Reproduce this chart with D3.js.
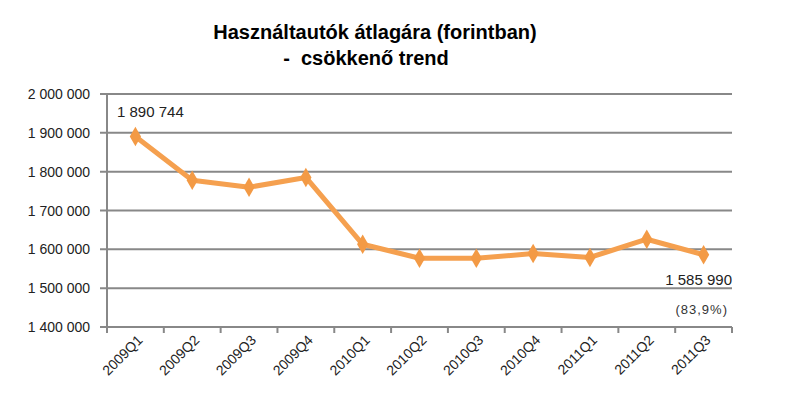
<!DOCTYPE html>
<html><head><meta charset="utf-8">
<script src="https://cdn.jsdelivr.net/npm/d3@7"></script>
<style>body{margin:0;background:#fff}</style>
</head><body>
<script>
const categories = ["2009Q1","2009Q2","2009Q3","2009Q4","2010Q1","2010Q2","2010Q3","2010Q4","2011Q1","2011Q2","2011Q3"];
const prices = [1890744,1778000,1760000,1785000,1613000,1577000,1577000,1589000,1579000,1626000,1585990];
const yTicks = [1400000,1500000,1600000,1700000,1800000,1900000,2000000];

const width = 810, height = 408;
const plotLeft = 107, plotRight = 732, plotTop = 94, plotBottom = 327;
const fmt = v => d3.format(",")(v).replace(/,/g, " ");

const svg = d3.select("body").append("svg")
  .attr("width", width).attr("height", height)
  .style("font-family", "Liberation Sans, Arial, sans-serif");

const x = d3.scaleBand().domain(categories).range([plotLeft, plotRight]);
const y = d3.scaleLinear().domain([1400000, 2000000]).range([plotBottom, plotTop]);

// title
svg.append("text").attr("x", 375).attr("y", 39).attr("text-anchor", "middle")
  .style("font-size", "20px").style("font-weight", "bold").text("Használtautók átlagára (forintban)");
svg.append("text").attr("x", 366).attr("y", 65).attr("text-anchor", "middle")
  .style("font-size", "20px").style("font-weight", "bold").style("white-space", "pre")
  .text("-  csökkenő trend");

// grid
svg.append("g").selectAll("line").data(yTicks).join("line")
  .attr("x1", plotLeft - 7).attr("x2", plotRight)
  .attr("y1", d => y(d)).attr("y2", d => y(d))
  .attr("stroke", "#888").attr("stroke-width", 2);

svg.append("g").selectAll("text").data(yTicks).join("text")
  .attr("x", 90).attr("y", d => y(d) + 5).attr("text-anchor", "end")
  .style("font-size", "14px").attr("fill", "#222").text(fmt);

// x axis
svg.append("line").attr("x1", plotLeft).attr("x2", plotLeft).attr("y1", plotTop).attr("y2", plotBottom)
  .attr("stroke", "#888").attr("stroke-width", 2);
const tickX = categories.map(c => x(c)).concat([plotRight]);
svg.append("g").selectAll("line").data(tickX).join("line")
  .attr("x1", d => d).attr("x2", d => d).attr("y1", plotBottom).attr("y2", plotBottom + 6)
  .attr("stroke", "#888").attr("stroke-width", 2);
svg.append("g").selectAll("text").data(categories).join("text")
  .attr("transform", d => `translate(${x(d) + x.bandwidth() / 2 + 8},${plotBottom + 14}) rotate(-45)`)
  .attr("text-anchor", "end").style("font-size", "14px").attr("fill", "#222").text(d => d);

// line
const cx = (d, i) => x(categories[i]) + x.bandwidth() / 2;
svg.append("path").datum(prices)
  .attr("d", d3.line().x(cx).y(d => y(d)))
  .attr("fill", "none").attr("stroke", "#f5a04f").attr("stroke-width", 5)
  .attr("stroke-linejoin", "round");
svg.append("g").selectAll("path").data(prices).join("path")
  .attr("d", d3.symbol(d3.symbolDiamond, 110))
  .attr("transform", (d, i) => `translate(${cx(d, i)},${y(d)})`)
  .attr("fill", "#f39a45");

// labels
svg.append("text").attr("x", 117).attr("y", 117).style("font-size", "15px").attr("fill", "#222")
  .text(fmt(prices[0]));
svg.append("text").attr("x", 732).attr("y", 285).attr("text-anchor", "end")
  .style("font-size", "15px").attr("fill", "#222").text(fmt(prices[prices.length - 1]));
svg.append("text").attr("x", 728).attr("y", 314).attr("text-anchor", "end")
  .style("font-size", "13px").attr("fill", "#333").style("letter-spacing", "1px").text("(83,9%)");
</script>
</body></html>
